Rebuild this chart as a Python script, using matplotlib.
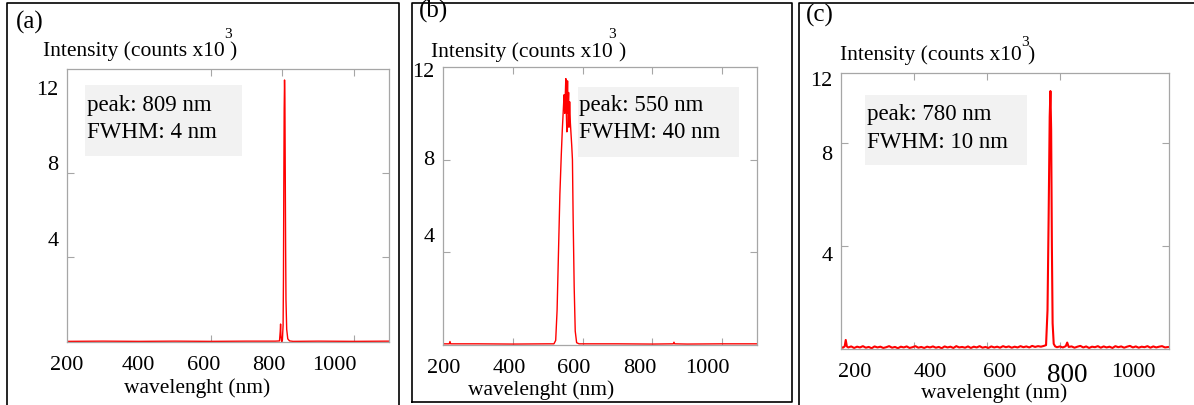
import matplotlib
matplotlib.use('Agg')
import matplotlib.pyplot as plt
from matplotlib.patches import Rectangle
from matplotlib.lines import Line2D

plt.rcParams['font.family'] = ['Liberation Serif', 'DejaVu Serif']

W, H = 1194, 405

# --- データ (読み取り値) ---
# (a) 809 nm
wl_a = [200, 300, 400, 500, 600, 700, 780, 792, 794, 795, 796, 798, 800, 802, 803, 804, 805, 806, 807, 808, 809, 810, 812, 815, 820, 830, 900, 1000, 1097]
int_a = [0.03, 0.04, 0.03, 0.04, 0.03, 0.04, 0.04, 0.05, 0.5, 0.85, 0.3, 0.02, 0.1, 0.8, 3.0, 7.5, 11.0, 12.4, 11.5, 8.0, 4.5, 2.0, 0.6, 0.15, 0.05, 0.03, 0.04, 0.03, 0.04]

# (b) 550 nm
wl_b = [200, 218, 220, 222, 300, 400, 500, 518, 523, 527, 531, 535, 539, 542, 545, 547, 549, 551, 552, 553, 555, 556, 557, 558, 560, 561, 563, 565, 567, 569, 571, 573, 576, 579, 583, 590, 700, 800, 860, 862, 864, 900, 1000, 1100]
int_b = [0.05, 0.05, 0.15, 0.05, 0.05, 0.04, 0.05, 0.05, 0.2, 1.5, 4.0, 6.5, 8.2, 9.3, 10.2, 10.8, 10.0, 11.0, 11.5, 10.3, 9.2, 10.6, 11.4, 10.0, 10.9, 9.4, 10.5, 9.6, 9.1, 8.6, 8.0, 5.5, 2.5, 0.6, 0.1, 0.05, 0.05, 0.04, 0.05, 0.12, 0.05, 0.04, 0.05, 0.05]

# (c) 780 nm (ベースラインはノイズあり)
wl_c = [200, 205, 210, 213, 216, 220, 228, 236, 244, 252, 260, 268, 276, 284, 292, 300, 308, 316, 324, 332, 340,
        348, 356, 364, 372, 380, 388, 396, 404, 412, 420, 428, 436, 444, 452, 460, 468, 476, 484, 492, 500,
        508, 516, 524, 532, 540, 548, 556, 564, 572, 580, 588, 596, 604, 612, 620, 628, 636, 644, 652, 660,
        668, 676, 684, 692, 700, 708, 716, 724, 732, 740, 748, 756, 762, 766, 769, 772, 774, 776, 778, 780,
        783, 787, 792, 800, 808, 816, 820, 824, 832, 840, 848, 856, 864, 872, 880, 888, 896, 904, 912, 920,
        928, 936, 944, 952, 960, 968, 976, 984, 992, 1000, 1008, 1016, 1024, 1032, 1040, 1048, 1056, 1064,
        1072, 1080, 1088, 1099]
int_c = [0.08, 0.05, 0.1, 0.35, 0.1, 0.06, 0.1, 0.04, 0.09, 0.06, 0.11, 0.05, 0.08, 0.03, 0.1, 0.06, 0.09, 0.04, 0.07, 0.11, 0.05,
         0.08, 0.03, 0.09, 0.06, 0.1, 0.04, 0.07, 0.11, 0.05, 0.08, 0.04, 0.09, 0.06, 0.1, 0.05, 0.08, 0.03, 0.1, 0.06, 0.09,
         0.04, 0.11, 0.06, 0.08, 0.05, 0.1, 0.04, 0.09, 0.06, 0.11, 0.05, 0.08, 0.04, 0.1, 0.06, 0.09, 0.05, 0.11, 0.07, 0.1,
         0.05, 0.09, 0.06, 0.11, 0.07, 0.1, 0.06, 0.12, 0.08, 0.11, 0.09, 0.12, 0.15, 1.5, 5.0, 9.0, 10.0, 8.5, 4.0, 1.0,
         0.2, 0.1, 0.07, 0.1, 0.06, 0.11, 0.25, 0.08, 0.1, 0.05, 0.09, 0.12, 0.06, 0.1, 0.04, 0.09, 0.07, 0.11, 0.05, 0.1,
         0.06, 0.09, 0.04, 0.11, 0.07, 0.1, 0.05, 0.09, 0.12, 0.06, 0.1, 0.05, 0.09, 0.07, 0.11, 0.05, 0.1, 0.06,
         0.09, 0.11, 0.06, 0.08]

panel_tags = ['(a)', '(b)', '(c)']
peak_texts = [['peak: 809 nm', 'FWHM: 4 nm'], ['peak: 550 nm', 'FWHM: 40 nm'], ['peak: 780 nm', 'FWHM: 10 nm']]
xtick_vals = [200, 400, 600, 800, 1000]
ytick_vals = [4, 8, 12]
xtick_text = ['200', '400', '600', '800', '1000']
ytick_text = ['4', '8', '12']
# 元図ではラベルが目盛りから少しずれている
xlabel_pos = [[200, 400, 581, 761, 944], [201, 391, 574, 763, 957], [238, 444, 636, 819, 1000]]
ylabel_pos = [[4.88, 8.48, 12.0], [4.73, 8.09, 11.87], [3.7, 7.6, 10.45]]
xlims = [(200, 1097), (200, 1100), (200, 1099)]
ylims = [(0, 12.92), (0, 12.0), (0, 10.7)]
# -----------------

# ピクセル座標 -> figure座標
def fx(x):
    return x / W

def fy(y):
    return 1 - y / H

fig = plt.figure(figsize=(W / 100, H / 100), dpi=100)

# axes の位置 (left, top, right, bottom) in px
ax_px = [(67, 69, 389, 342), (443, 67, 757, 345), (841, 73, 1169, 349)]
series = [(wl_a, int_a, 1.0), (wl_b, int_b, 1.0), (wl_c, int_c, 1.5)]
ylab_px = [(43, 51), (431, 52), (840, 55)]
sup_px = [(228, 35), (612, 35), (1025, 42)]
paren_px = [(233, 52), (622, 53), (1031, 56)]
xlab_px = [(197, 388), (541, 390), (994, 393)]
tag_px = [(16, 22), (419, 11), (806, 15)]
box_px = [(85, 85, 242, 156), (578, 87, 739, 157), (865, 95, 1027, 165)]
txt_px = [(87, 105, 132), (579, 106, 133), (867, 115, 142)]

for i in range(3):
    l, t, r, b = ax_px[i]
    ax = fig.add_axes([fx(l), fy(b), (r - l) / W, (b - t) / H])
    wl, inten, lw = series[i]
    ax.plot(wl, inten, color='#ff0000', lw=lw)
    ax.set_xlim(*xlims[i])
    ax.set_ylim(*ylims[i])

    for s in ax.spines.values():
        s.set_color('#a6a6a6')
        s.set_linewidth(0.9)

    # ラベル (目盛り線なし)
    ax.set_xticks(xlabel_pos[i], xtick_text)
    ax.set_yticks(ylabel_pos[i], ytick_text)
    ax.tick_params(axis='both', which='major', length=0, labelsize=16)
    ax.tick_params(axis='x', which='major', pad=10)
    ax.tick_params(axis='y', which='major', pad=6)
    # 目盛り線 (内向き、四辺)
    ax.set_xticks([v for v in xtick_vals if v > xlims[i][0]], minor=True)
    ax.set_yticks([v for v in ytick_vals if v < ylims[i][1]], minor=True)
    ax.tick_params(which='minor', direction='in', length=5, width=0.8, color='#a6a6a6',
                   top=True, right=True, bottom=True, left=True)
    if i == 2:
        ax.get_xticklabels()[3].set_fontsize(19.5)

    # 注記ボックス
    bl, bt, br, bb = box_px[i]
    fig.add_artist(Rectangle((fx(bl), fy(bb)), (br - bl) / W, (bb - bt) / H,
                             transform=fig.transFigure, facecolor='#f2f2f2', edgecolor='none'))
    tx, ty1, ty2 = txt_px[i]
    fig.text(fx(tx), fy(ty1), peak_texts[i][0], fontsize=16.5, ha='left', va='center')
    fig.text(fx(tx), fy(ty2), peak_texts[i][1], fontsize=16.5, ha='left', va='center')

    # 軸ラベル
    fig.text(fx(ylab_px[i][0]), fy(ylab_px[i][1]), 'Intensity (counts x10', fontsize=15.5,
             ha='left', va='center')
    fig.text(fx(sup_px[i][0]), fy(sup_px[i][1]), '3', fontsize=11, ha='center', va='center')
    fig.text(fx(paren_px[i][0]), fy(paren_px[i][1]), ')', fontsize=15.5, ha='center', va='center')
    fig.text(fx(xlab_px[i][0]), fy(xlab_px[i][1]), 'wavelenght (nm)', fontsize=15.5,
             ha='center', va='center')
    fig.text(fx(tag_px[i][0]), fy(tag_px[i][1]), panel_tags[i], fontsize=18,
             ha='left', va='center')

# パネルの枠線
def frame(pts):
    xs = [fx(p[0]) for p in pts]
    ys = [fy(p[1]) for p in pts]
    fig.add_artist(Line2D(xs, ys, transform=fig.transFigure, color='black', lw=1.2))

frame([(7, 406), (7, 3), (399, 3), (399, 406)])
frame([(412, 402), (412, 3), (792, 3), (792, 402), (412, 402)])
frame([(799, 406), (799, 3), (1195, 3)])

fig.savefig('out.png', dpi=100)
